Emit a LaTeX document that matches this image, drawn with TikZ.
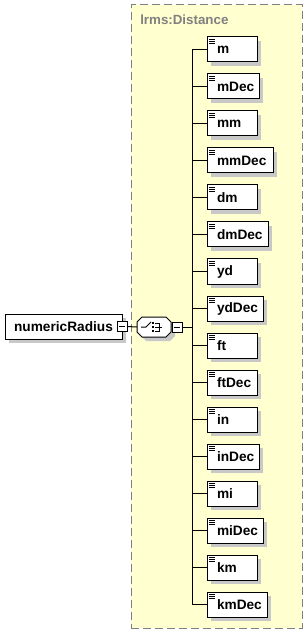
\documentclass[tikz,border=0pt]{standalone}
\usepackage{fontspec}
\setmainfont{Liberation Sans}
\usetikzlibrary{shadows}
\definecolor{grpfill}{RGB}{255,255,208}
\definecolor{grpline}{RGB}{128,128,128}
\definecolor{shadowgray}{RGB}{200,200,200}
\tikzset{
  elem/.style={draw, fill=white, line width=0.75pt, anchor=west, align=left,
    inner xsep=7.5pt, inner ysep=0pt, minimum height=18.75pt, outer sep=0pt,
    font=\fontsize{10.25}{12}\selectfont\bfseries,
    drop shadow={shadow xshift=3pt, shadow yshift=-3pt, fill=shadowgray, opacity=1}},
  minusbox/.style={draw, fill=white, line width=0.75pt, minimum size=7.5pt, inner sep=0pt, outer sep=0pt},
  group/.style={draw=grpline, fill=grpfill, line width=0.75pt, dash pattern=on 6pt off 3pt,
    anchor=north west, inner sep=0pt, outer sep=0pt},
  wire/.style={line width=0.75pt, black}
}
\begin{document}
\begin{tikzpicture}[x=0.75pt,y=-0.75pt]
\useasboundingbox (0,0) rectangle (307,634);
\fill[white] (0,0) rectangle (307,634);
% group box
\node[group, minimum width=128.25pt, minimum height=467.25pt] (grp) at (131,5) {};
\node[anchor=base west, inner sep=0pt, text=grpline, font=\fontsize{10}{12}\selectfont\bfseries] (grplabel) at (140,25) {lrms:Distance};
% bus
\coordinate (busx) at (192,327);
% elements
\foreach \n/\w/\i in {m/22.5/0, mDec/24/1, mm/22.5/2, mmDec/34.5/3, dm/22.5/4, dmDec/30.75/5,
  yd/22.5/6, ydDec/27/7, ft/22.5/8, ftDec/22.5/9, in/22.5/10, inDec/24/11,
  mi/22.5/12, miDec/27/13, km/22.5/14, kmDec/30/15}{
  \node[elem, text width=\w pt] (e-\n) at (207,{49.5+37*\i}) {\n};
  \draw[line width=0.75pt] ([xshift=1.5pt,yshift=-2pt]e-\n.north west) -- ++(4.5pt,0);
  \draw[line width=0.75pt] ([xshift=1.5pt,yshift=-3.5pt]e-\n.north west) -- ++(4.5pt,0);
  \draw[line width=0.75pt] ([xshift=1.5pt,yshift=-5pt]e-\n.north west) -- ++(4.5pt,0);
  \draw[wire] (e-\n.west -| busx) -- (e-\n.west);
}
\draw[wire] (e-m.west -| busx) -- (e-kmDec.west -| busx);
% root element
\node[elem, anchor=center, minimum width=87.75pt, align=center, text width=, inner xsep=0pt] (root) at (63.5,326.5) {numericRadius};
\node[minusbox] (rootminus) at (root.east) {};
\draw[wire] ([xshift=-2.25pt]rootminus.center) -- ([xshift=2.25pt]rootminus.center);
% sequence compositor
\node[minimum width=25.5pt, minimum height=15pt, inner sep=0pt, outer sep=0pt] (seq) at (154,327) {};
\begin{scope}[shift={(seq.center)}]
  \fill[shadowgray] (-13,-1) -- (-8,-6) -- (16,-6) -- (21,-1) -- (21,9) -- (16,14) -- (-8,14) -- (-13,9) -- cycle;
  \filldraw[fill=white, line width=0.75pt] (-17,-5) -- (-12,-10) -- (12,-10) -- (17,-5) -- (17,5) -- (12,10) -- (-12,10) -- (-17,5) -- cycle;
  \draw[line width=0.75pt] (-13,0) -- (-8,0) -- (-3,-5);
  \fill (-2,-5) rectangle (0,-3);
  \fill (-2,-1) rectangle (0,1);
  \fill (-2,3) rectangle (0,5);
  \draw[line width=0.75pt] (1,-4) -- (5,-4) -- (5,4) -- (1,4);
  \draw[line width=0.75pt] (1,0) -- (8,0);
\end{scope}
\node[minusbox] (seqminus) at (177,327) {};
\draw[wire] ([xshift=-2.25pt]seqminus.center) -- ([xshift=2.25pt]seqminus.center);
% connectors
\draw[wire] (rootminus.east) -- (seq.west);
\draw[wire] (seqminus.east) -- (busx);
\end{tikzpicture}
\end{document}
